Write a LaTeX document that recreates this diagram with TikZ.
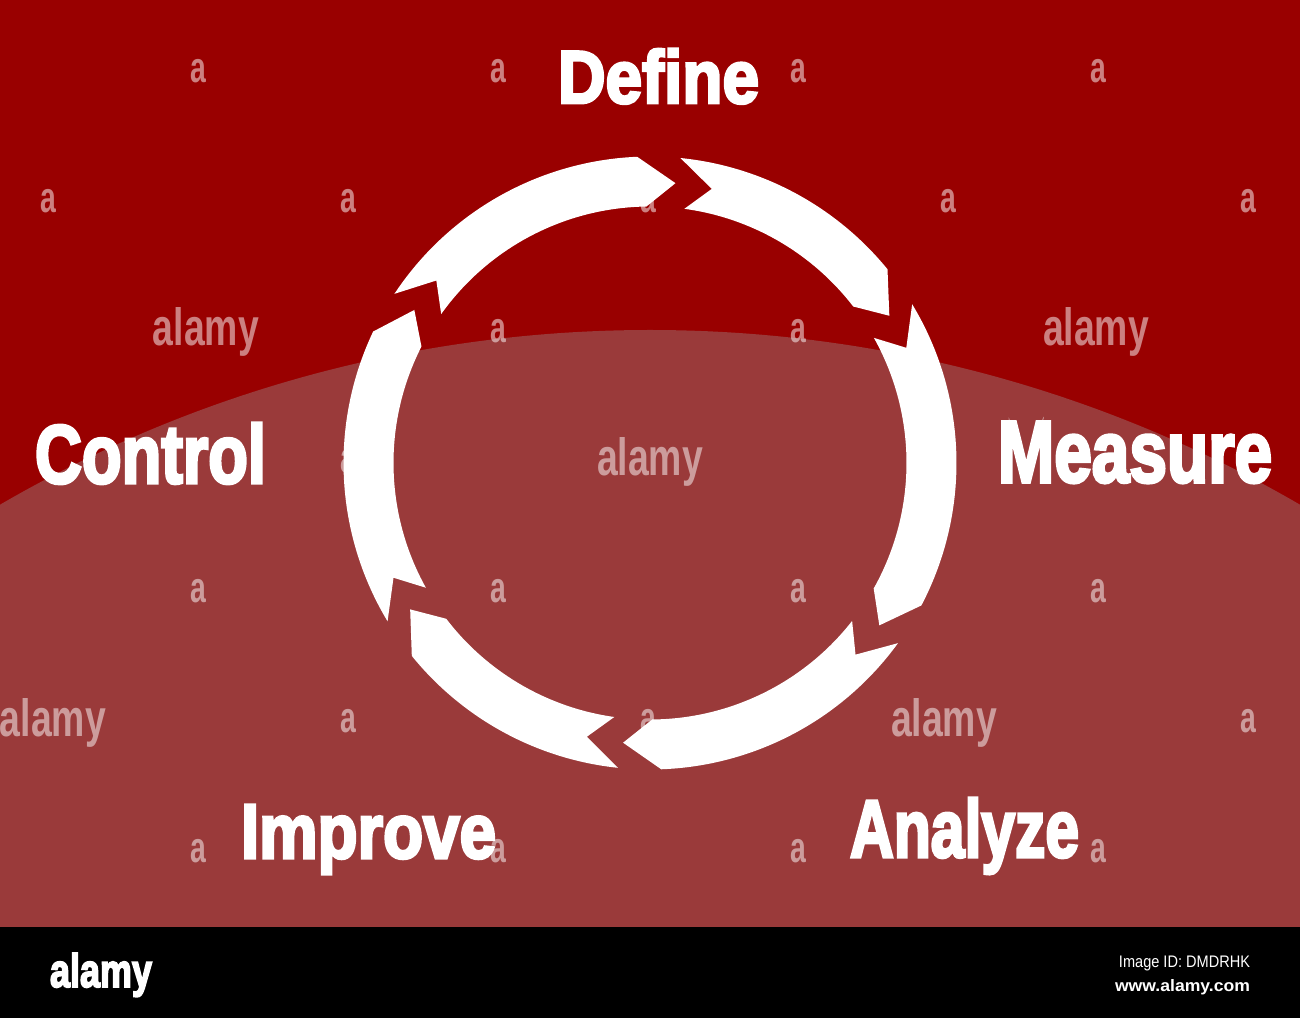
\documentclass[tikz,border=0pt]{standalone}
\usepackage{fontspec}
\usepackage{graphicx}
\setmainfont{Liberation Sans}
\newfontfamily\heavyfont{Liberation Sans}[BoldFeatures={FakeBold=4}]
\newfontfamily\wmfont{Liberation Sans}
\definecolor{topred}{RGB}{153,0,0}
\definecolor{domered}{RGB}{154,58,58}
\begin{document}
\begin{tikzpicture}[x=1pt,y=1pt,
  lbl/.style={inner sep=0pt, outer sep=0pt, text=white, anchor=base west},
  wm/.style={inner sep=0pt, outer sep=0pt, text=white, opacity=0.5},
  ringw/.style={fill=white},
  bandtext/.style={inner sep=0pt, outer sep=0pt, text=white}]
\useasboundingbox (0,0) rectangle (1300,1018);
% background
\fill[topred] (0,91) rectangle (1300,1018);
\begin{scope}
  \clip (0,91) rectangle (1300,1018);
  \fill[domered] (650,-607) circle[radius=1295];
\end{scope}
% ring of arrows
\coordinate (C) at (650,555);
\foreach \n/\t in {139.5/84.8, 77.3/31.6, 24.2/-35.3, -43.0/-95.5, -103.0/-148.6, 204.1/147.0}{
  \fill[ringw] ([shift={(C)}]{\n+7}:306.5)
     arc[start angle={\n+7}, end angle={\t+7.6}, radius=306.5]
     -- ([shift={(C)}]{\t}:281)
     -- ([shift={(C)}]{\t+6}:256.5)
     arc[start angle={\t+6}, end angle={\n+5}, radius=256.5]
     -- ([shift={(C)}]{\n}:281) -- cycle;
}
% labels
\node[lbl] (define)  at (558,915) {\resizebox{201pt}{54pt}{\heavyfont\bfseries Define}};
\node[lbl] (control) at (35,535)  {\resizebox{231pt}{60pt}{\heavyfont\bfseries Control}};
\node[lbl] (measure) at (998,536) {\resizebox{274pt}{60pt}{\heavyfont\bfseries Measure}};
\node[lbl] (improve) at (241,160) {\resizebox{255pt}{53pt}{\heavyfont\bfseries Improve}};
\node[lbl] (analyze) at (850,161) {\resizebox{229pt}{59pt}{\heavyfont\bfseries Analyze}};
% watermarks
\foreach \x/\y [count=\i] in {198/71, 498/71, 798/71, 1098/71,
   48/201, 348/201, 648/201, 948/201, 1248/201,
   498/331, 798/331,
   348/461, 948/461,
   198/591, 498/591, 798/591, 1098/591,
   348/721, 648/721, 1248/721,
   198/851, 498/851, 798/851, 1098/851}{
  \node[wm] (wa\i) at (\x,{1018-\y}) {\scalebox{0.66}[1]{\wmfont\bfseries\fontsize{43}{43}\selectfont a}};
}
\foreach \x/\y [count=\i] in {206/346, 1096/346, 650/476, 53/736, 944/736}{
  \node[wm, anchor=base] (wb\i) at (\x,{1018-\y}) {\resizebox{106pt}{38pt}{\wmfont\bfseries alamy}};
}
% bottom band
\fill[black] (0,0) rectangle (1300,91);
\node[bandtext, anchor=base west] (logo) at (50,31) {\resizebox{102pt}{34pt}{\heavyfont\bfseries alamy}};
\node[bandtext, anchor=base east] (imgid) at (1250,51) {\resizebox{131pt}{11.5pt}{Image ID: DMDRHK}};
\node[bandtext, anchor=base east] (www) at (1250,27) {\resizebox{135pt}{12pt}{\bfseries www.alamy.com}};
\end{tikzpicture}
\end{document}
